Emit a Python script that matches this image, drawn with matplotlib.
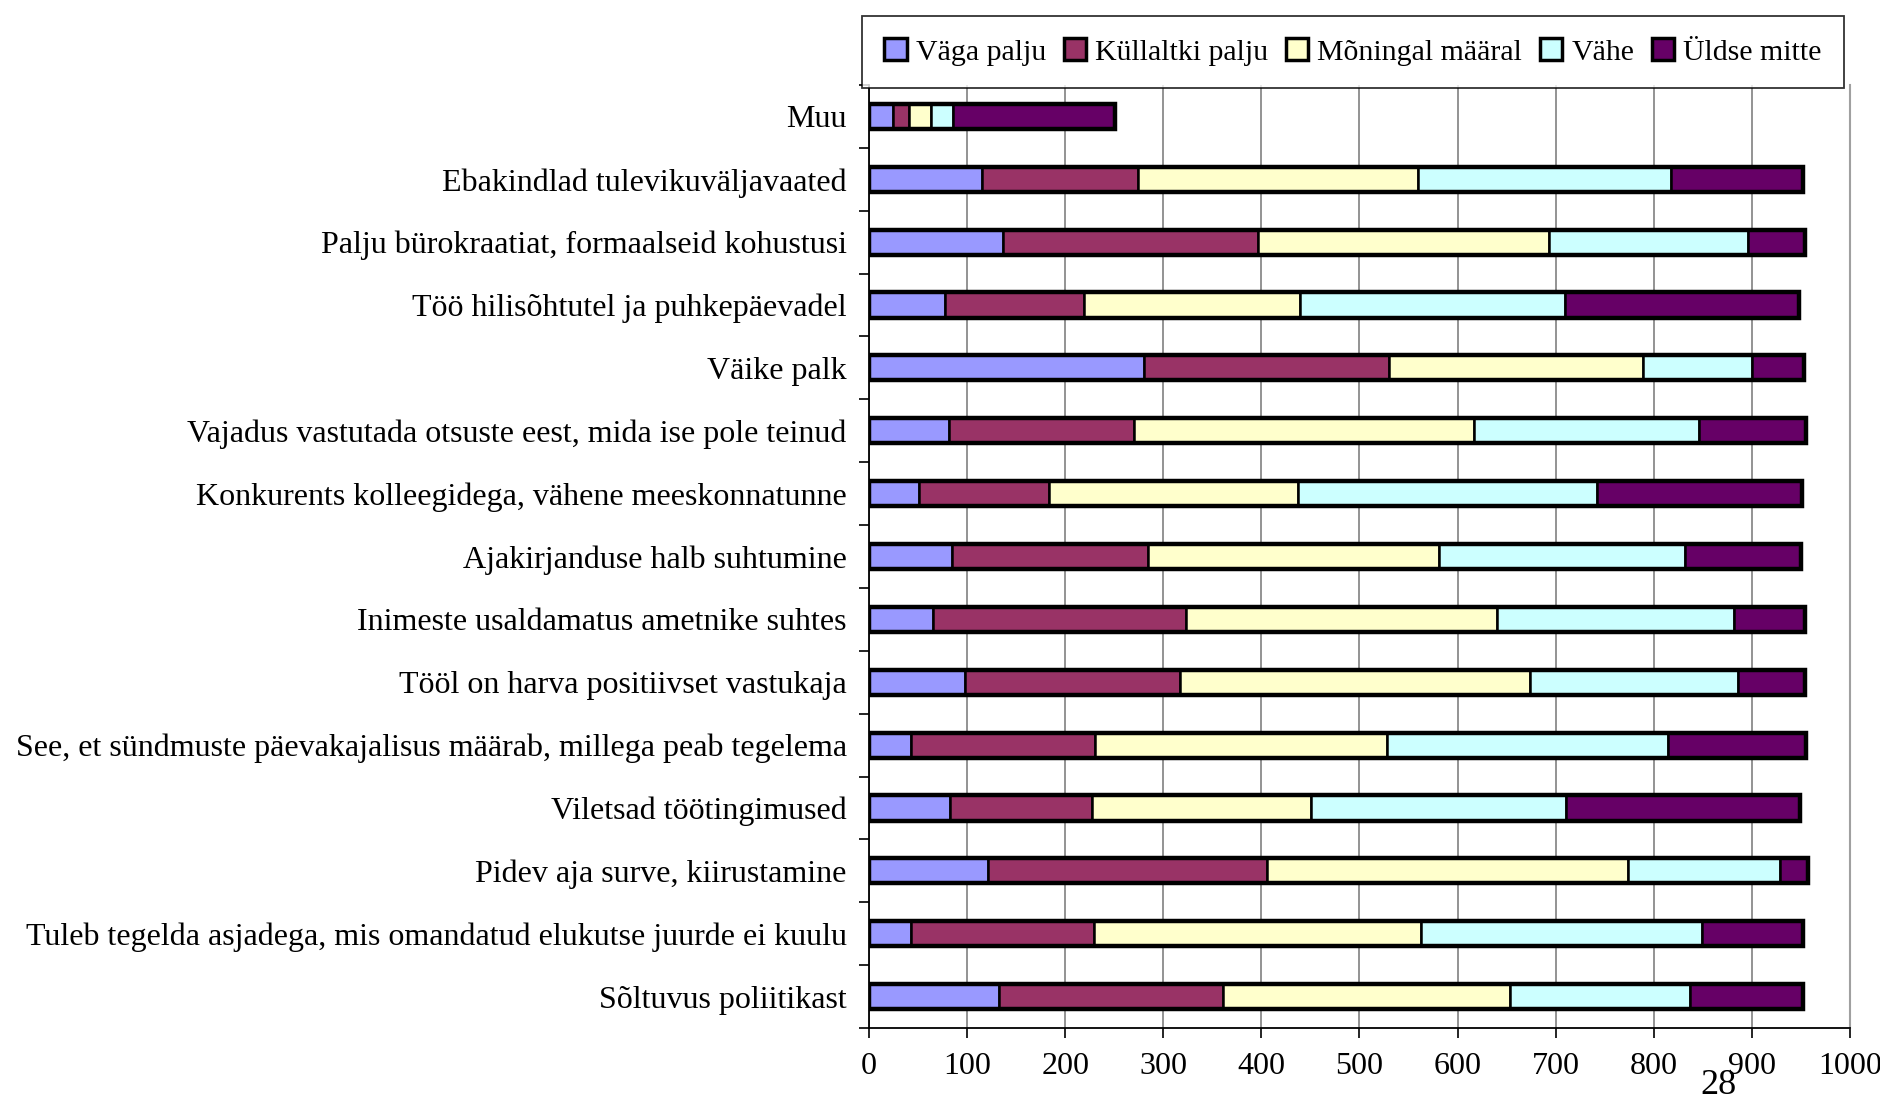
import matplotlib
matplotlib.use("Agg")
import matplotlib.pyplot as plt
import numpy as np
from matplotlib.patches import Patch

plt.rcParams['font.family'] = ['Liberation Serif', 'DejaVu Serif']

categories = [
    "Muu",
    "Ebakindlad tulevikuväljavaated",
    "Palju bürokraatiat, formaalseid kohustusi",
    "Töö hilisõhtutel ja puhkepäevadel",
    "Väike palk",
    "Vajadus vastutada otsuste eest, mida ise pole teinud",
    "Konkurents kolleegidega, vähene meeskonnatunne",
    "Ajakirjanduse halb suhtumine",
    "Inimeste usaldamatus ametnike suhtes",
    "Tööl on harva positiivset vastukaja",
    "See, et sündmuste päevakajalisus määrab, millega peab tegelema",
    "Viletsad töötingimused",
    "Pidev aja surve, kiirustamine",
    "Tuleb tegelda asjadega, mis omandatud elukutse juurde ei kuulu",
    "Sõltuvus poliitikast",
]

series_names = ["Väga palju", "Küllaltki palju", "Mõningal määral", "Vähe", "Üldse mitte"]

vaga_palju      = [24, 115, 137, 77, 280, 82, 51, 85, 65, 98, 43, 83, 121, 43, 133]
kullaltki_palju = [17, 159, 260, 142, 250, 188, 132, 199, 258, 219, 187, 144, 285, 186, 228]
moningal_maaral = [22, 286, 296, 220, 259, 347, 254, 297, 317, 357, 298, 224, 368, 334, 292]
vahe            = [23, 258, 203, 270, 111, 229, 305, 251, 242, 212, 286, 259, 155, 286, 184]
uldse_mitte     = [165, 134, 58, 239, 53, 109, 209, 118, 72, 68, 141, 239, 28, 103, 115]

x_ticks = [0, 100, 200, 300, 400, 500, 600, 700, 800, 900, 1000]

colors = ["#9999FF", "#993366", "#FFFFCC", "#CCFFFF", "#660066"]

W, H = 1881, 1096
fig = plt.figure(figsize=(W / 100, H / 100), dpi=100)
ax = fig.add_axes([869 / W, 1 - 1028 / H, (1850 - 869) / W, (1028 - 85) / H])

series = [vaga_palju, kullaltki_palju, moningal_maaral, vahe, uldse_mitte]
y = np.arange(len(categories))
left = np.zeros(len(categories))
bar_h = 0.40
for name, vals, c in zip(series_names, series, colors):
    vals = np.array(vals, dtype=float)
    ax.barh(y, vals, left=left, height=bar_h, color=c, edgecolor="black",
            linewidth=1.8, zorder=3)
    left += vals
# outer outline of each stacked bar
ax.barh(y, left, left=0, height=bar_h, fill=False, edgecolor="black",
        linewidth=3.2, zorder=4)

ax.set_xlim(0, 1000)
ax.set_ylim(len(categories) - 0.5, -0.5)
ax.set_xticks(x_ticks)
ax.set_xticklabels([str(t) for t in x_ticks], fontsize=23)
ax.set_yticks(y)
ax.set_yticklabels(categories, fontsize=23)
ax.tick_params(axis='y', which='major', length=0, pad=16)
ax.set_yticks(np.arange(-0.5, len(categories), 1.0), minor=True)
ax.tick_params(axis='y', which='minor', length=7, width=1.2, direction='out')
ax.tick_params(axis='x', which='major', length=7, width=1.2, direction='out', pad=10)

ax.grid(axis='x', color='#808080', linewidth=1.2, zorder=0)
ax.set_axisbelow(True)
ax.spines['right'].set_color('#a0a0a0')
ax.spines['right'].set_linewidth(1.5)
ax.spines['top'].set_visible(False)
for s in ['left', 'bottom']:
    ax.spines[s].set_color('black')
    ax.spines[s].set_linewidth(1.3)

handles = [Patch(facecolor=c, edgecolor='black', linewidth=2.5) for c in colors]
leg = fig.legend(handles, series_names, loc='center',
                 bbox_to_anchor=(862 / W, 1 - 92 / H, (1844 - 862) / W, 80 / H),
                 mode='expand', ncol=5, fontsize=21.5, frameon=True, fancybox=False,
                 handlelength=0.75, handleheight=0.75, handletextpad=0.3,
                 columnspacing=0.5, borderpad=0.75, borderaxespad=0)
leg.get_frame().set_edgecolor('black')
leg.get_frame().set_linewidth(1.3)
leg.set_zorder(10)

fig.text(1718 / W, 1 - 1086 / H, "28", fontsize=26, ha='center', va='center')

fig.savefig("out.png", dpi=100)
